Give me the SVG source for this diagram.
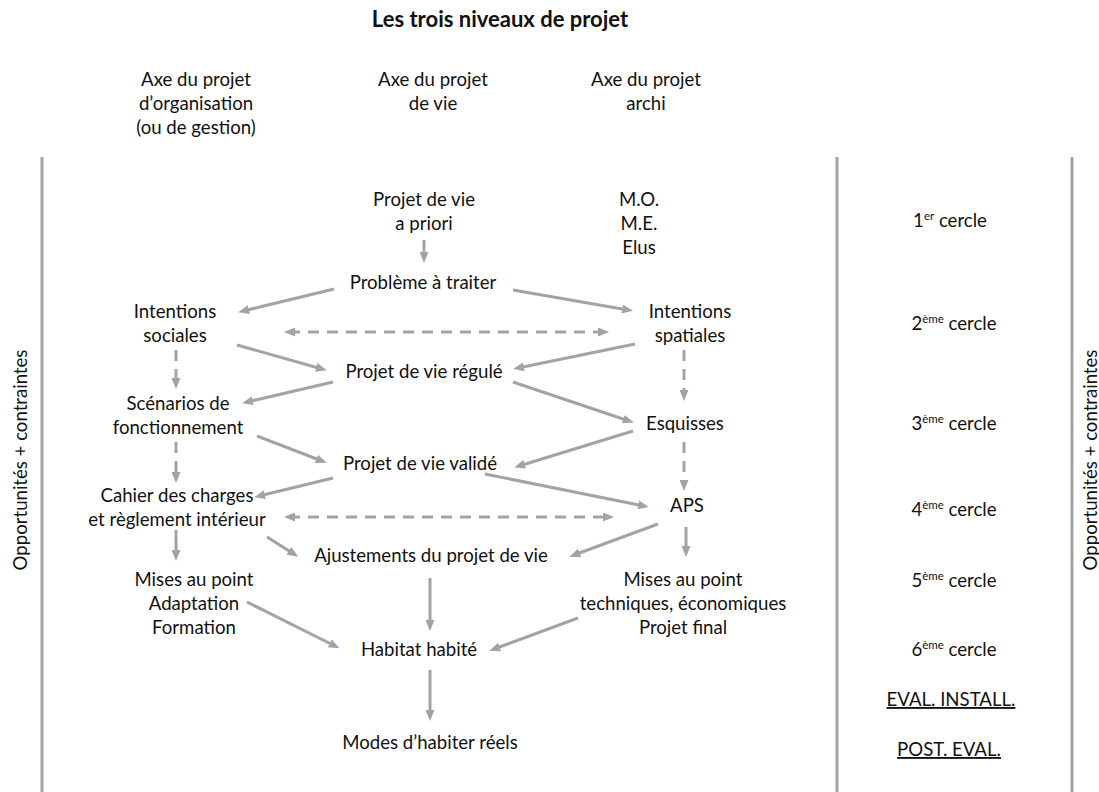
<svg xmlns="http://www.w3.org/2000/svg" width="1099" height="792" viewBox="0 0 1099 792">
<defs>
<style>
text{font-family:Lato,"Open Sans","Liberation Sans",sans-serif;font-size:18.6px;fill:#111;text-anchor:middle}
.title{font-weight:bold;font-size:22px}
.u{text-decoration:underline}
.sup{font-size:11.5px}
.edge{stroke:#a3a3a3;stroke-width:3;fill:none;marker-end:url(#ah)}
.dash{stroke-dasharray:11 8}
.both{marker-start:url(#ah)}
.rule{stroke:#a3a3a3;stroke-width:3}
</style>
<marker id="ah" markerUnits="userSpaceOnUse" markerWidth="11" markerHeight="9" refX="6" refY="4.5" orient="auto-start-reverse">
<path d="M0,0 L11,4.5 L0,9 z" fill="#a3a3a3"/>
</marker>
</defs>
<rect width="1099" height="792" fill="#fff"/>
<text class="title" x="500" y="27">Les trois niveaux de projet</text>
<g id="headers">
<text x="196" y="86">Axe du projet</text>
<text x="196" y="110">d’organisation</text>
<text x="196" y="134">(ou de gestion)</text>
<text x="433" y="86">Axe du projet</text>
<text x="433" y="110">de vie</text>
<text x="646" y="86">Axe du projet</text>
<text x="646" y="110">archi</text>
</g>
<g id="rules">
<line class="rule" x1="42" y1="157" x2="42" y2="792"/>
<line class="rule" x1="837" y1="157" x2="837" y2="792"/>
<line class="rule" x1="1072" y1="157" x2="1072" y2="792"/>
<text transform="translate(27,460) rotate(-90)">Opportunités + contraintes</text>
<text transform="translate(1097,460) rotate(-90)">Opportunités + contraintes</text>
</g>
<g id="n-apriori"><text x="424" y="206">Projet de vie</text><text x="424" y="230">a priori</text></g>
<g id="n-mo"><text x="639" y="206">M.O.</text><text x="639" y="230">M.E.</text><text x="639" y="254">Elus</text></g>
<g id="n-probleme"><text x="423" y="289">Problème à traiter</text></g>
<g id="n-int-soc"><text x="175" y="318">Intentions</text><text x="175" y="342">sociales</text></g>
<g id="n-int-spa"><text x="690" y="318">Intentions</text><text x="690" y="342">spatiales</text></g>
<g id="n-regule"><text x="424" y="378">Projet de vie régulé</text></g>
<g id="n-scenarios"><text x="178" y="410">Scénarios de</text><text x="178" y="434">fonctionnement</text></g>
<g id="n-esquisses"><text x="685" y="430">Esquisses</text></g>
<g id="n-valide"><text x="420" y="470">Projet de vie validé</text></g>
<g id="n-cahier"><text x="177" y="502">Cahier des charges</text><text x="177" y="526">et règlement intérieur</text></g>
<g id="n-aps"><text x="687" y="512">APS</text></g>
<g id="n-ajust"><text x="431" y="562">Ajustements du projet de vie</text></g>
<g id="n-mises-l"><text x="194" y="586">Mises au point</text><text x="194" y="610">Adaptation</text><text x="194" y="634">Formation</text></g>
<g id="n-mises-r"><text x="683" y="586">Mises au point</text><text x="683" y="610">techniques, économiques</text><text x="683" y="634">Projet final</text></g>
<g id="n-habitat"><text x="419" y="656">Habitat habité</text></g>
<g id="n-modes"><text x="430" y="749">Modes d’habiter réels</text></g>
<g id="circles">
<text x="950" y="227">1<tspan class="sup" dy="-7">er</tspan><tspan dy="7"> cercle</tspan></text>
<text x="954" y="330">2<tspan class="sup" dy="-7">ème</tspan><tspan dy="7"> cercle</tspan></text>
<text x="954" y="430">3<tspan class="sup" dy="-7">ème</tspan><tspan dy="7"> cercle</tspan></text>
<text x="954" y="516">4<tspan class="sup" dy="-7">ème</tspan><tspan dy="7"> cercle</tspan></text>
<text x="954" y="587">5<tspan class="sup" dy="-7">ème</tspan><tspan dy="7"> cercle</tspan></text>
<text x="954" y="656">6<tspan class="sup" dy="-7">ème</tspan><tspan dy="7"> cercle</tspan></text>
<text class="u" x="951" y="706">EVAL. INSTALL.</text>
<text class="u" x="949" y="756">POST. EVAL.</text>
</g>
<g id="connectors">
<line class="edge" x1="424" y1="240" x2="424" y2="258"/>
<line class="edge" x1="334" y1="289" x2="243" y2="311"/>
<line class="edge" x1="513" y1="290" x2="628" y2="310"/>
<line class="edge dash both" x1="289" y1="332" x2="604" y2="332"/>
<line class="edge dash" x1="176" y1="350" x2="176" y2="384"/>
<line class="edge dash" x1="684" y1="350" x2="684" y2="396"/>
<line class="edge" x1="237" y1="345" x2="322" y2="369"/>
<line class="edge" x1="635" y1="344" x2="518" y2="368"/>
<line class="edge" x1="333" y1="382" x2="247" y2="402"/>
<line class="edge" x1="513" y1="382" x2="629" y2="421"/>
<line class="edge" x1="257" y1="436" x2="322" y2="461"/>
<line class="edge" x1="633" y1="431" x2="519" y2="466"/>
<line class="edge dash" x1="176" y1="442" x2="176" y2="478"/>
<line class="edge dash" x1="684" y1="442" x2="684" y2="486"/>
<line class="edge" x1="333" y1="478" x2="259" y2="496"/>
<line class="edge" x1="485" y1="474" x2="644" y2="506"/>
<line class="edge dash both" x1="289" y1="517" x2="609" y2="517"/>
<line class="edge" x1="176" y1="530" x2="176" y2="556"/>
<line class="edge" x1="267" y1="537" x2="294" y2="554"/>
<line class="edge" x1="658" y1="524" x2="574" y2="555"/>
<line class="edge" x1="686" y1="527" x2="686" y2="552"/>
<line class="edge" x1="430" y1="578" x2="430" y2="626"/>
<line class="edge" x1="247" y1="602" x2="335" y2="646"/>
<line class="edge" x1="578" y1="618" x2="494" y2="649"/>
<line class="edge" x1="430" y1="670" x2="430" y2="716"/>
</g>
</svg>
